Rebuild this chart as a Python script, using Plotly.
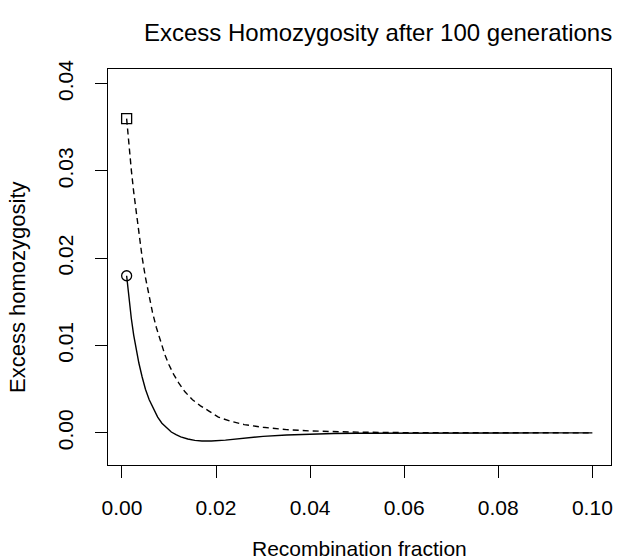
import plotly.graph_objects as go

# Recombination fraction (x) and excess homozygosity (y)
solid_x = [0.0010, 0.0013, 0.0016, 0.0020, 0.0025, 0.0030, 0.0036, 0.0043, 0.0050,
           0.0058, 0.0067, 0.0076, 0.0085, 0.0095, 0.0105, 0.0115, 0.0125, 0.0140,
           0.0155, 0.0170, 0.0190, 0.0220, 0.0260, 0.0300, 0.0350, 0.0400, 0.0450,
           0.0500, 0.0600, 0.0700, 0.0800, 0.0900, 0.1000]
solid_y = [0.0180, 0.0163, 0.0148, 0.0131, 0.0112, 0.0096, 0.0080, 0.0064, 0.0050,
           0.0038, 0.0027, 0.0018, 0.0011, 0.0006, 0.0001, -0.0002, -0.00045, -0.0007,
           -0.00086, -0.00093, -0.00093, -0.00083, -0.00060, -0.00040, -0.00024, -0.00014, -0.00008,
           -0.00004, -0.00001, 0.0, 0.0, 0.0, 0.0]

dashed_x = [0.0010, 0.0013, 0.0016, 0.0020, 0.0025, 0.0031, 0.0037, 0.0043, 0.0050,
            0.0057, 0.0065, 0.0073, 0.0082, 0.0091, 0.0100, 0.0110, 0.0121, 0.0134,
            0.0150, 0.0167, 0.0185, 0.0205, 0.0230, 0.0260, 0.0300, 0.0350, 0.0400,
            0.0450, 0.0500, 0.0600, 0.0700, 0.0800, 0.1000]
dashed_y = [0.0360, 0.0341, 0.0323, 0.0301, 0.0276, 0.0249, 0.0224, 0.0201, 0.0178,
            0.0158, 0.0138, 0.0121, 0.0104, 0.0090, 0.0078, 0.0067, 0.0057, 0.0047,
            0.0038, 0.0031, 0.0025, 0.0018, 0.00135, 0.00095, 0.00064, 0.00037, 0.00022,
            0.00013, 0.00008, 0.00003, 0.00001, 0.0, 0.0]

x_ticks = [0.00, 0.02, 0.04, 0.06, 0.08, 0.10]
x_tick_labels = ["0.00", "0.02", "0.04", "0.06", "0.08", "0.10"]
y_ticks = [0.00, 0.01, 0.02, 0.03, 0.04]
y_tick_labels = ["0.00", "0.01", "0.02", "0.03", "0.04"]

title_text = "Excess Homozygosity after 100 generations"
x_title = "Recombination fraction"
y_title = "Excess homozygosity"

FONT = "Liberation Sans, Arial, Helvetica, sans-serif"

fig = go.Figure()
fig.add_trace(go.Scatter(x=dashed_x, y=dashed_y, mode="lines",
                         line=dict(color="black", width=1.4, dash="6px,4px"),
                         showlegend=False, hoverinfo="skip"))
fig.add_trace(go.Scatter(x=solid_x, y=solid_y, mode="lines",
                         line=dict(color="black", width=1.4),
                         showlegend=False, hoverinfo="skip"))
fig.add_trace(go.Scatter(x=[dashed_x[0]], y=[dashed_y[0]], mode="markers",
                         marker=dict(symbol="square-open", size=10, color="black",
                                     line=dict(width=1.3)),
                         showlegend=False, hoverinfo="skip"))
fig.add_trace(go.Scatter(x=[solid_x[0]], y=[solid_y[0]], mode="markers",
                         marker=dict(symbol="circle-open", size=10, color="black",
                                     line=dict(width=1.3)),
                         showlegend=False, hoverinfo="skip"))

fig.update_layout(
    width=617, height=560,
    margin=dict(l=108, r=6, t=69, b=95, autoexpand=False),
    paper_bgcolor="white", plot_bgcolor="white",
    font=dict(family=FONT, size=21, color="black"),
    title=dict(text=title_text, x=0.537, xref="paper", xanchor="center",
               y=1 - 33 / 560, yref="container", yanchor="middle",
               font=dict(family=FONT, size=24, color="black")),
    xaxis=dict(range=[-0.00296, 0.10396], tickvals=x_ticks, ticktext=x_tick_labels,
               ticks="outside", ticklen=12, tickwidth=1, tickcolor="black",
               showline=True, linecolor="black", linewidth=1, mirror=True,
               showgrid=False, zeroline=False, ticklabelstandoff=12,
               tickfont=dict(family=FONT, size=21, color="black")),
    yaxis=dict(range=[-0.00368, 0.04168], tickvals=y_ticks, ticktext=y_tick_labels,
               ticks="outside", ticklen=12, tickwidth=1, tickcolor="black",
               showline=True, linecolor="black", linewidth=1, mirror=True,
               showgrid=False, zeroline=False, tickangle=-90, ticklabelstandoff=14,
               tickfont=dict(family=FONT, size=21, color="black")),
    annotations=[
        dict(text=x_title, xref="paper", yref="paper", x=0.5, y=-0.2096,
             xanchor="center", yanchor="middle", showarrow=False,
             font=dict(family=FONT, size=21, color="black")),
        dict(text=y_title, xref="paper", yref="paper", x=-0.179, y=0.4495,
             xanchor="center", yanchor="middle", showarrow=False, textangle=-90,
             font=dict(family=FONT, size=22, color="black")),
    ],
)

fig.write_html("out.html", config={"displayModeBar": False},
               post_script="document.body.style.margin='0';document.body.style.padding='0';")
